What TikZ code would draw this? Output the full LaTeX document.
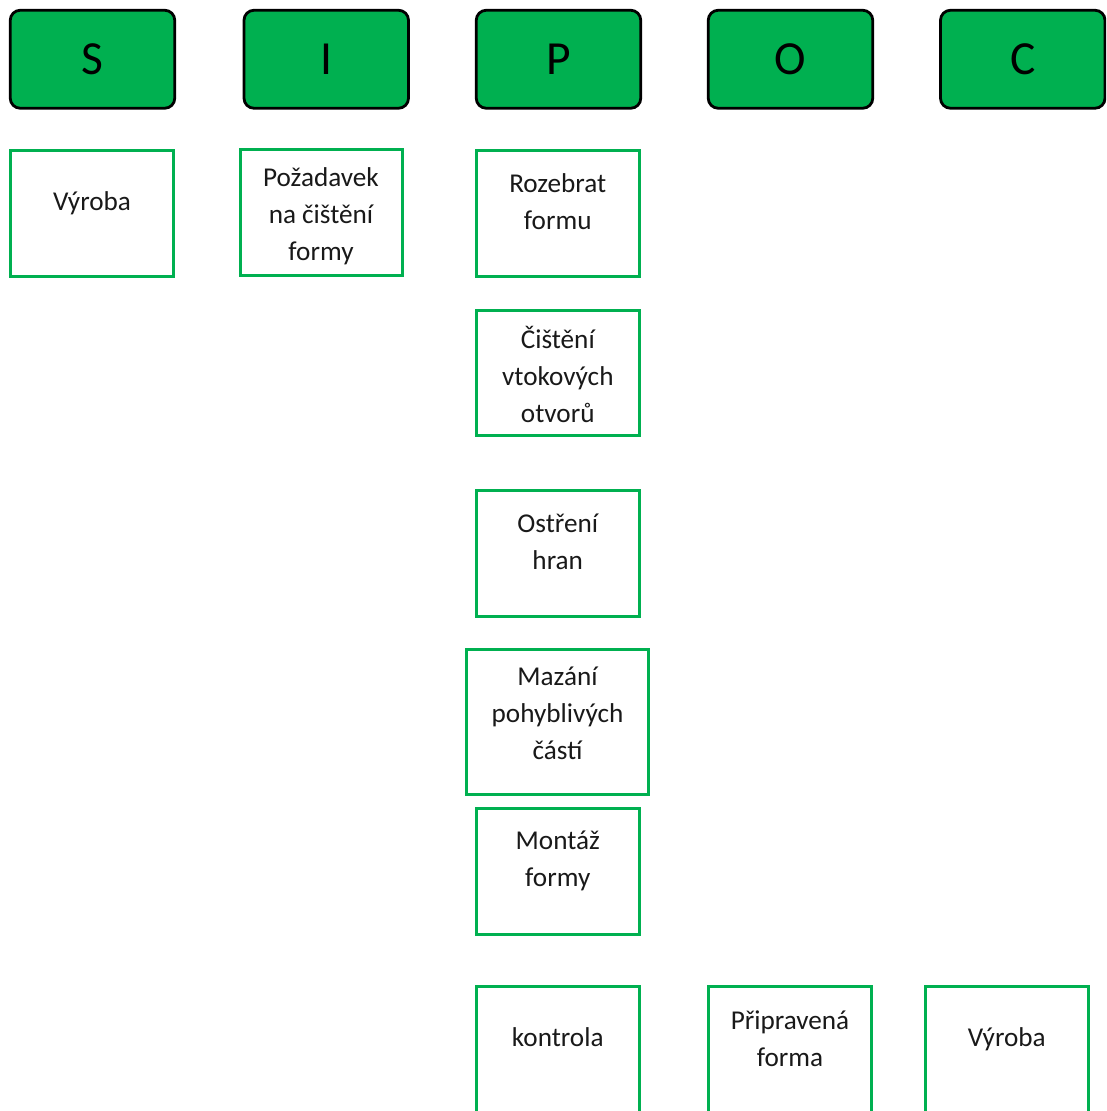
\documentclass[tikz,border=0pt]{standalone}
\usepackage{fontspec}
\setmainfont{Carlito}
\definecolor{offgreen}{HTML}{00B050}
\begin{document}
\begin{tikzpicture}[x=1pt,y=-1pt,
  head/.style={draw=black, line width=2.8pt, fill=offgreen, rounded corners=10pt,
    inner sep=0pt, minimum width=164.5pt, minimum height=98pt,
    font=\fontsize{47.5}{50}\selectfont, text height=30.6pt, text depth=0pt},
  stepbox/.style={draw=offgreen, line width=2.8pt, inner sep=0pt,
    minimum width=163pt, minimum height=126.5pt},
  lbl/.style={inner sep=0pt, anchor=north, align=center, text=black!90,
    font=\fontsize{27.2}{37}\selectfont}
]
\useasboundingbox (0,0) rectangle (1106,1111);
\clip (0,0) rectangle (1106,1111);
\fill[white] (0,0) rectangle (1106,1111);

% header row
\node[head] (hS) at (92.5,59.25) {S};
\node[head] (hI) at (326.25,59.25) {I};
\node[head] (hP) at (558.5,59.25) {P};
\node[head] (hO) at (790.5,59.25) {O};
\node[head] (hC) at (1022.75,59.25) {C};

% boxes
\node[stepbox, minimum width=163.5pt] (bS) at (92,213.5) {};
\node[stepbox, minimum width=162pt, minimum height=125.5pt] (bI) at (321.25,212.5) {};
\node[stepbox, minimum height=126pt] (bP1) at (557.75,213.25) {};
\node[stepbox, minimum height=125.5pt] (bP2) at (557.75,373) {};
\node[stepbox, minimum height=126pt] (bP3) at (557.75,553.25) {};
\node[stepbox, minimum width=182.5pt, minimum height=145.5pt] (bP4) at (557.5,722) {};
\node[stepbox] (bP5) at (557.75,871.5) {};
\node[stepbox] (bP6) at (557.75,1049.5) {};
\node[stepbox, minimum width=163.5pt] (bO) at (790,1049.5) {};
\node[stepbox] (bC) at (1006.75,1049.5) {};

% texts (north = first baseline - 25.9)
\node[lbl] (tS) at (92,210.7-25.9) {\strut Výroba};
\node[lbl] (tI) at (321,186.6-25.9) {\strut Požadavek\\\strut na čištění\\\strut formy};
\node[lbl] (tP1) at (557.75,192.6-25.9) {\strut Rozebrat\\\strut formu};
\node[lbl] (tP2) at (557.75,348-25.9) {\strut Čištění\\\strut vtokových\\\strut otvorů};
\node[lbl] (tP3) at (557.75,532.5-25.9) {\strut Ostření\\\strut hran};
\node[lbl] (tP4) at (557.5,685.5-25.9) {\strut Mazání\\\strut pohyblivých\\\strut částí};
\node[lbl] (tP5) at (557.75,849.5-25.9) {\strut Montáž\\\strut formy};
\node[lbl] (tP6) at (557.75,1046.5-25.9) {\strut kontrola};
\node[lbl] (tO) at (790,1029.5-25.9) {\strut Připravená\\\strut forma};
\node[lbl] (tC) at (1006.75,1046.5-25.9) {\strut Výroba};
\end{tikzpicture}
\end{document}
